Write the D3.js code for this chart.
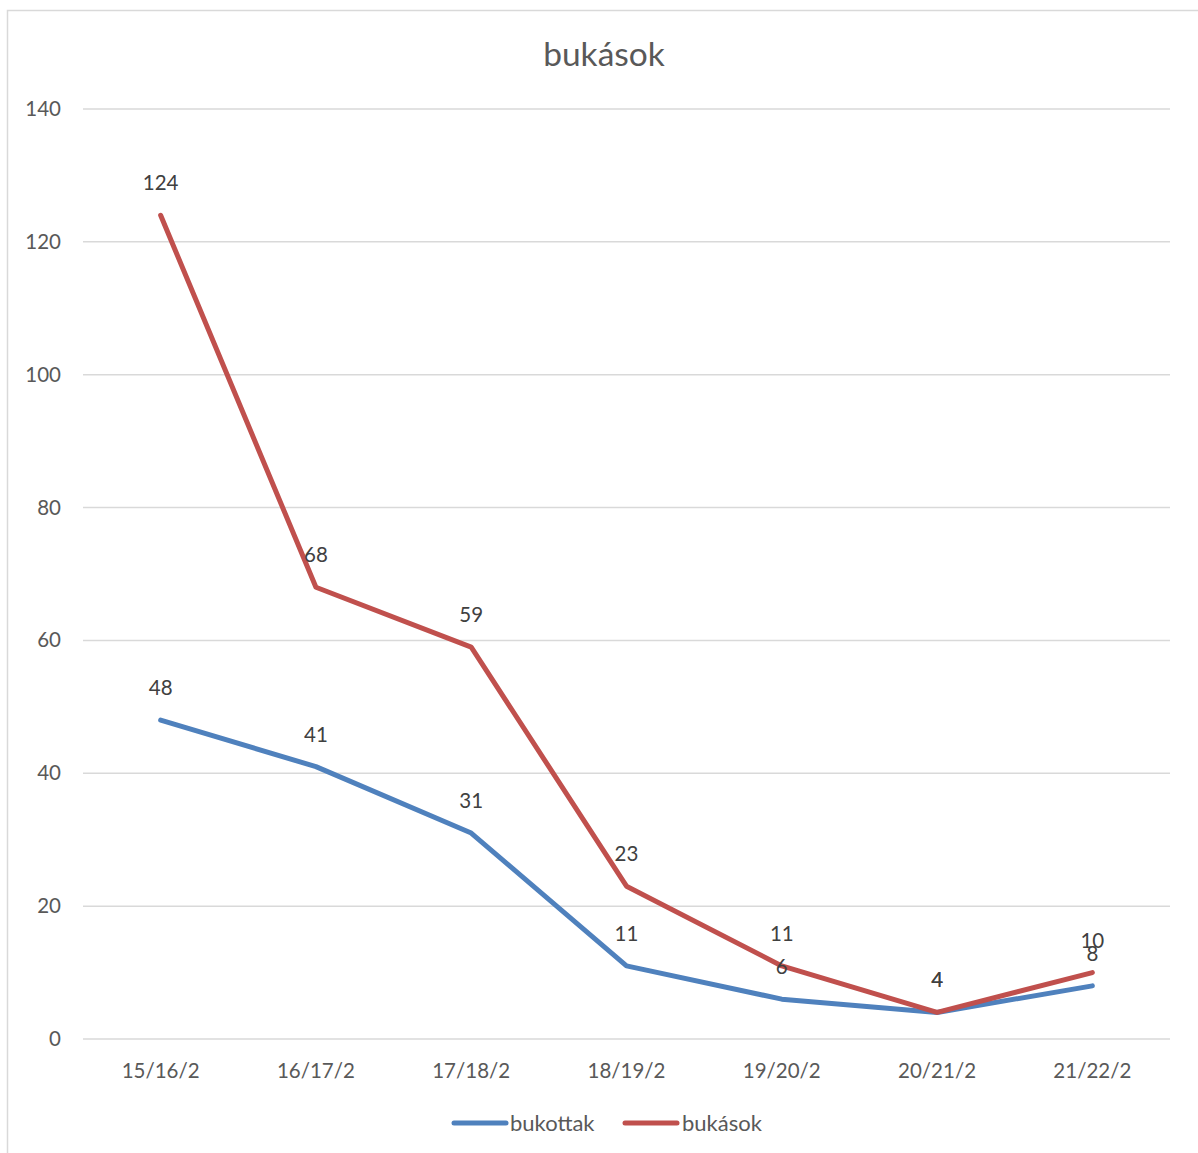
<!DOCTYPE html>
<html><head><meta charset="utf-8">
<script src="https://cdn.jsdelivr.net/npm/d3@7"></script>
<style>body{margin:0;background:#fff;} svg{display:block;font-family:Lato, "Open Sans", sans-serif;}</style>
</head><body>
<svg id="c" width="1198" height="1153"></svg>
<script>
const categories = ["15/16/2","16/17/2","17/18/2","18/19/2","19/20/2","20/21/2","21/22/2"];
const bukottak = [48,41,31,11,6,4,8];
const bukasok = [124,68,59,23,11,4,10];
const yTicks = [0,20,40,60,80,100,120,140];
const seriesNames = ["bukottak","bukások"];
const colors = ["#4F81BD","#C0504D"];
const title = "bukások";

const svg = d3.select("#c");
svg.append("rect").attr("x",7.5).attr("y",10.5).attr("width",1200).attr("height",1200)
  .attr("fill","#fff").attr("stroke","#d9d9d9").attr("stroke-width",1.5);

const x = d3.scaleBand().domain(categories).range([83,1170]);
const y = d3.scaleLinear().domain([0,140]).range([1039,109]);

svg.append("g").selectAll("line").data(yTicks).join("line")
  .attr("x1",83).attr("x2",1170).attr("y1",d=>y(d)).attr("y2",d=>y(d))
  .attr("stroke","#d9d9d9").attr("stroke-width",1.5);

svg.append("g").selectAll("text").data(yTicks).join("text")
  .attr("x",61).attr("y",d=>y(d)+7).attr("text-anchor","end")
  .attr("font-size",20.5).attr("fill","#595959").text(d=>d);

svg.append("g").selectAll("text").data(categories).join("text")
  .attr("x",d=>x(d)+x.bandwidth()/2).attr("y",1078).attr("text-anchor","middle")
  .attr("font-size",20.5).attr("fill","#595959").text(d=>d);

svg.append("text").attr("x",604).attr("y",66).attr("text-anchor","middle")
  .attr("font-size",33.5).attr("fill","#595959").text(title);

const cx = d => x(d)+x.bandwidth()/2;
const line = d3.line().x((d,i)=>cx(categories[i])).y(d=>y(d));
[bukottak,bukasok].forEach((s,k)=>{
  svg.append("path").datum(s).attr("d",line).attr("fill","none")
    .attr("stroke",colors[k]).attr("stroke-width",5).attr("stroke-linejoin","round").attr("stroke-linecap","round");
});
[bukottak,bukasok].forEach((s,k)=>{
  svg.append("g").selectAll("text").data(s).join("text")
    .attr("x",(d,i)=>cx(categories[i])).attr("y",d=>y(d)-25)
    .attr("text-anchor","middle").attr("font-size",20.5).attr("fill","#404040").text(d=>d);
});

const leg = [{x:454,tx:510},{x:625,tx:682}];
leg.forEach((l,k)=>{
  svg.append("line").attr("x1",l.x).attr("x2",l.x+52).attr("y1",1123).attr("y2",1123)
    .attr("stroke",colors[k]).attr("stroke-width",5).attr("stroke-linecap","round");
  svg.append("text").attr("x",l.tx).attr("y",1131).attr("font-size",22).attr("fill","#595959").text(seriesNames[k]);
});
</script>
</body></html>
